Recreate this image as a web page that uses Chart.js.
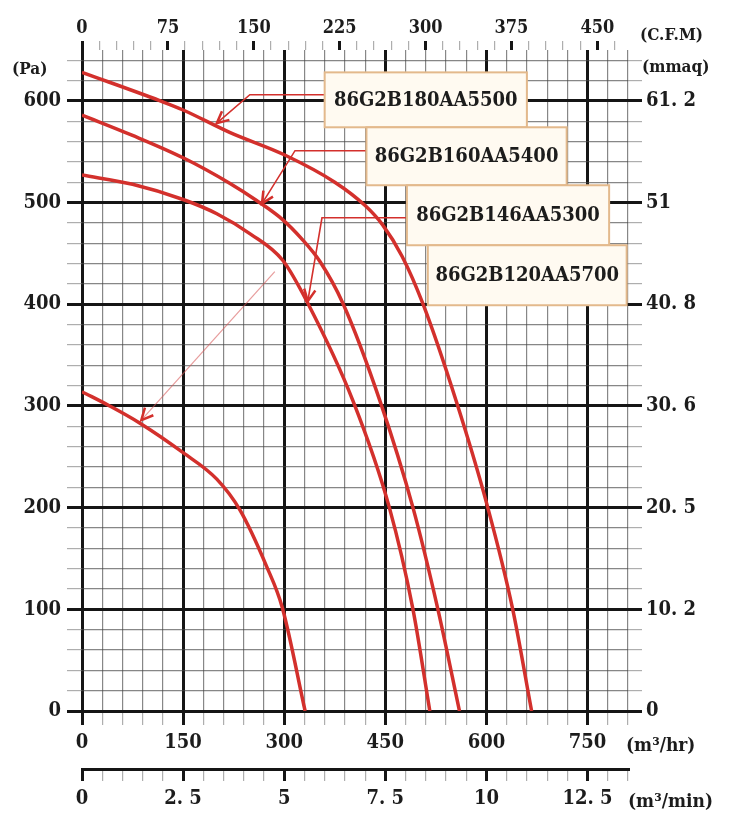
<!DOCTYPE html>
<html>
<head>
<meta charset="utf-8">
<script src="https://cdn.jsdelivr.net/npm/chart.js@4"></script>
<style>
html, body { margin: 0; padding: 0; background: #fff; }
</style>
</head>
<body>
<canvas id="fan-chart" width="734" height="826"></canvas>
<script>
// static pressure (Pa) against airflow (m3/hr)
const models = ['86G2B180AA5500', '86G2B160AA5400', '86G2B146AA5300', '86G2B120AA5700'];

const flow5500 = [0, 116, 150, 219, 300, 375, 420, 446, 475, 506, 555, 602, 639, 667];
const pa5500   = [628, 600, 591, 569, 547, 520, 497, 478, 447, 400, 305, 200, 100, 0];

const flow5400 = [0, 75, 150, 219, 259, 298, 325, 353, 387, 442, 491, 528, 560];
const pa5400   = [586, 566, 544, 519, 502, 483, 465, 442, 401, 305, 200, 100, 0];

const flow5300 = [0, 75, 150, 200, 250, 298, 335, 402, 456, 491, 516];
const pa5300   = [527, 518, 503, 489, 469, 443, 401, 305, 200, 100, 0];

const flow5700 = [0, 41, 86, 150, 200, 234, 274, 297, 331];
const pa5700   = [314, 300, 283, 254, 228, 198, 142, 102, 0];

// axis labels
const flowTicks = [0, 150, 300, 450, 600, 750];
const paTicks   = [0, 100, 200, 300, 400, 500, 600];
const mmaqLabels = ['0', '10.2', '20.5', '30.6', '40.8', '51', '61.2'];
const cfmTicks  = [0, 75, 150, 225, 300, 375, 450];
const minTicks  = [0, 2.5, 5, 7.5, 10, 12.5];

const FLOW_MAX = 810;
const PA_MAX = 650;
const CFM = 1.699;   // m3/hr per cfm

const RED = '#d3302c';
const FONT = '"DejaVu Serif Condensed", "DejaVu Serif", serif';

function pts(xs, ys) {
    return xs.map((v, i) => ({ x: v, y: ys[i] }));
}

function steps(max, step) {
    let out = [];
    for (let i = 0; i * step <= max + 1e-9; i++) out.push({ value: i * step });
    return out;
}

function isMajor(v, list) {
    return list.some(t => Math.abs(t - v) < 1e-6);
}

// label boxes and the pointer lines, in chart units (flow, Pa)
const boxes = [
    { text: models[0], x0: 360, x1: 660, y0: 628, y1: 574 },
    { text: models[1], x0: 422, x1: 719, y0: 574, y1: 517 },
    { text: models[2], x0: 482, x1: 782, y0: 517, y1: 458 },
    { text: models[3], x0: 513, x1: 808, y0: 458, y1: 399 },
];
const leaders = [
    { pts: [[360, 606], [249, 606], [200, 578]], faint: false },
    { pts: [[422, 551], [316, 551], [267, 499]], faint: false },
    { pts: [[482, 485], [356, 485], [335, 403]], faint: false },
    { pts: [[286, 432], [88, 286]], faint: true },
];

const notes = {
    id: 'notes',
    afterDatasetsDraw(chart) {
        const { ctx, chartArea, scales } = chart;
        const px = v => scales.x.getPixelForValue(v);
        const py = v => scales.y.getPixelForValue(v);
        ctx.save();

        leaders.forEach(l => {
            ctx.strokeStyle = l.faint ? 'rgba(215,90,90,0.6)' : RED;
            ctx.lineWidth = l.faint ? 1.2 : 1.6;
            ctx.beginPath();
            l.pts.forEach((p, i) => {
                if (i === 0) ctx.moveTo(px(p[0]), py(p[1]));
                else ctx.lineTo(px(p[0]), py(p[1]));
            });
            ctx.stroke();
            // arrow head at the last point
            let n = l.pts.length;
            let tx = px(l.pts[n - 1][0]), ty = py(l.pts[n - 1][1]);
            let fx = px(l.pts[n - 2][0]), fy = py(l.pts[n - 2][1]);
            let a = Math.atan2(ty - fy, tx - fx);
            ctx.strokeStyle = RED;
            ctx.lineWidth = 2.5;
            ctx.beginPath();
            ctx.moveTo(tx - 13 * Math.cos(a - 0.45), ty - 13 * Math.sin(a - 0.45));
            ctx.lineTo(tx, ty);
            ctx.lineTo(tx - 13 * Math.cos(a + 0.45), ty - 13 * Math.sin(a + 0.45));
            ctx.stroke();
        });

        boxes.forEach(b => {
            let x0 = px(b.x0), x1 = px(b.x1), y0 = py(b.y0), y1 = py(b.y1);
            ctx.fillStyle = '#fffaf1';
            ctx.fillRect(x0, y0, x1 - x0, y1 - y0);
            ctx.strokeStyle = '#e3b98c';
            ctx.lineWidth = 2;
            ctx.strokeRect(x0, y0, x1 - x0, y1 - y0);
            ctx.fillStyle = '#1c1c1c';
            ctx.font = 'bold 20px ' + FONT;
            ctx.textAlign = 'center';
            ctx.textBaseline = 'middle';
            ctx.fillText(b.text, (x0 + x1) / 2, (y0 + y1) / 2 + 1);
        });

        // unit captions
        ctx.fillStyle = '#1c1c1c';
        ctx.textBaseline = 'middle';
        ctx.textAlign = 'left';
        ctx.font = 'bold 17px ' + FONT;
        ctx.fillText('(Pa)', 12, chartArea.top + 20);
        ctx.fillText('(C.F.M)', chartArea.right + 12, 36);
        ctx.fillText('(mmaq)', chartArea.right + 14, chartArea.top + 18);
        ctx.font = 'bold 19px ' + FONT;
        ctx.fillText('(m³/hr)', chartArea.right - 2, chartArea.bottom + 35);
        ctx.fillText('(m³/min)', chartArea.right, chartArea.bottom + 91);
        ctx.restore();
    }
};

function gridColor(list) {
    return c => isMajor(c.tick.value, list) ? '#151515' : 'rgba(70,70,70,0.65)';
}
function gridWidth(list) {
    return c => isMajor(c.tick.value, list) ? 3 : 1.2;
}
function tickColor(list) {
    return c => isMajor(c.tick.value, list) ? '#151515' : 'rgba(120,120,120,0.6)';
}

const tickFont = { family: FONT, size: 20, weight: 'bold' };

const ctx = document.getElementById('fan-chart').getContext('2d');
new Chart(ctx, {
    type: 'line',
    data: {
        datasets: [
            { label: models[0], data: pts(flow5500, pa5500) },
            { label: models[1], data: pts(flow5400, pa5400) },
            { label: models[2], data: pts(flow5300, pa5300) },
            { label: models[3], data: pts(flow5700, pa5700) },
        ].map(d => Object.assign(d, {
            borderColor: RED,
            borderWidth: 3.5,
            pointRadius: 0,
            cubicInterpolationMode: 'monotone',
            fill: false,
        }))
    },
    options: {
        responsive: false,
        animation: false,
        layout: { padding: 0 },
        plugins: { legend: { display: false }, tooltip: { enabled: false } },
        scales: {
            x: {
                type: 'linear', position: 'bottom', weight: 1,
                min: 0, max: FLOW_MAX,
                afterBuildTicks: s => { s.ticks = steps(FLOW_MAX, 30); },
                afterFit: s => { s.height = 58; },
                border: { display: false },
                grid: { color: gridColor(flowTicks), lineWidth: gridWidth(flowTicks),
                        tickColor: tickColor(flowTicks), tickLength: 14 },
                ticks: { autoSkip: false, maxRotation: 0, padding: 6, color: '#1c1c1c', font: tickFont,
                         callback: v => isMajor(v, flowTicks) ? String(v) : '' }
            },
            x2: {
                type: 'linear', position: 'bottom', weight: 2,
                min: 0, max: FLOW_MAX / 60,
                afterBuildTicks: s => { s.ticks = steps(FLOW_MAX / 60, 0.5); },
                afterFit: s => { s.height = 57; },
                border: { display: true, color: '#151515', width: 3 },
                grid: { drawOnChartArea: false, tickColor: tickColor(minTicks),
                        lineWidth: gridWidth(minTicks), tickLength: 12 },
                ticks: { autoSkip: false, maxRotation: 0, padding: 6, color: '#1c1c1c', font: tickFont,
                         callback: v => isMajor(v, minTicks) ? String(v).replace('.', '. ') : '' }
            },
            xTop: {
                type: 'linear', position: 'top',
                min: 0, max: FLOW_MAX / CFM,
                afterBuildTicks: s => { s.ticks = steps(FLOW_MAX / CFM, 15); },
                afterFit: s => { s.height = 50; },
                border: { display: false },
                grid: { drawOnChartArea: false, tickColor: tickColor(cfmTicks),
                        lineWidth: gridWidth(cfmTicks), tickLength: 9 },
                ticks: { autoSkip: false, maxRotation: 0, padding: 2, color: '#1c1c1c',
                         font: { family: FONT, size: 18, weight: 'bold' },
                         callback: v => isMajor(v, cfmTicks) ? String(v) : '' }
            },
            y: {
                type: 'linear', position: 'left',
                min: 0, max: PA_MAX,
                afterBuildTicks: s => { s.ticks = steps(640, 20); },
                afterFit: s => { s.width = 82; },
                border: { display: false },
                grid: { color: gridColor(paTicks), lineWidth: gridWidth(paTicks),
                        tickColor: tickColor(paTicks), tickLength: 15 },
                ticks: { autoSkip: false, padding: 6, color: '#1c1c1c', font: tickFont,
                         callback: v => isMajor(v, paTicks) ? String(v) : '' }
            },
            yR: {
                type: 'linear', position: 'right',
                min: 0, max: PA_MAX,
                afterBuildTicks: s => { s.ticks = steps(640, 20); },
                afterFit: s => { s.width = 106; },
                border: { display: false },
                grid: { drawOnChartArea: false, tickColor: tickColor(paTicks),
                        lineWidth: gridWidth(paTicks), tickLength: 14 },
                ticks: { autoSkip: false, padding: 4, color: '#1c1c1c', font: tickFont,
                         callback: v => {
                             let i = paTicks.indexOf(v);
                             return i >= 0 ? mmaqLabels[i].replace('.', '. ') : '';
                         } }
            }
        }
    },
    plugins: [notes]
});
</script>
</body>
</html>
